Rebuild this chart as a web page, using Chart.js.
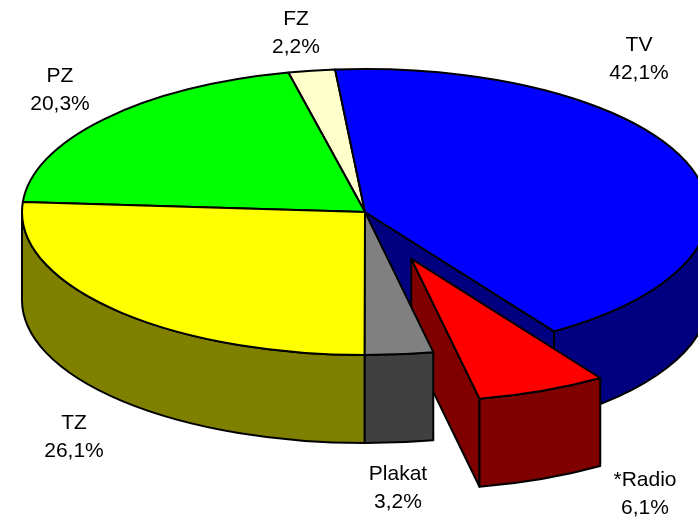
<!DOCTYPE html>
<html>
<head>
<meta charset="utf-8">
<script src="https://cdn.jsdelivr.net/npm/chart.js@4.4.0/dist/chart.umd.min.js"></script>
<style>
html,body{margin:0;padding:0;background:#fff;overflow:hidden}
#wrap{width:698px;height:523px;position:relative;background:#fff}
</style>
</head>
<body>
<div id="wrap"><canvas id="c" width="698" height="523"></canvas></div>
<script>
// ---- data ----
const categories = ['TV', '*Radio', 'Plakat', 'TZ', 'PZ', 'FZ'];
const shares = [42.1, 6.1, 3.2, 26.1, 20.3, 2.2];
const topColors = ['#0000FF', '#FF0000', '#808080', '#FFFF00', '#00FF00', '#FFFFCC'];
const sideColors = ['#000080', '#800000', '#404040', '#808000', '#008000', '#80805F'];
const explode = [0, 121, 0, 0, 0, 0];
// label anchor (centre x, first baseline y)
const labelAnchors = [[639, 51], [645, 486], [398, 480], [74, 429], [60, 82], [296, 25]];

// ---- projection settings ----
const Y0 = 212, TILT = 0.417, DEPTH = 88, LINE = 28;

function pctText(v) { return v.toFixed(1).replace('.', ',') + '%'; }

const pie3d = {
  id: 'pie3d',
  beforeDatasetsDraw(chart) {
    const ctx = chart.ctx;
    const meta = chart.getDatasetMeta(0);
    const pieces = meta.data.map((el, i) => {
      const p = el.getProps(['x', 'y', 'startAngle', 'endAngle', 'outerRadius'], true);
      const mid = (p.startAngle + p.endAngle) / 2;
      const e = explode[i] || 0;
      const ex = Math.cos(mid) * e, ey = Math.sin(mid) * e;
      return { el, i, a0: p.startAngle, a1: p.endAngle, R: p.outerRadius, baseY: p.y,
        ex, ey, X: p.x + ex, Y: Y0 + ey * TILT, mid };
    });
    const n = pieces.length;
    const rim = (pc, t, z) => [pc.X + pc.R * Math.cos(t), pc.Y + pc.R * TILT * Math.sin(t) + z];
    const dist = pc => {
      let d = ((pc.mid - Math.PI / 2) % (2 * Math.PI) + 2 * Math.PI) % (2 * Math.PI);
      if (d > Math.PI) d = 2 * Math.PI - d;
      return d;
    };
    const order = pieces.slice().sort((a, b) => dist(b) - dist(a));

    ctx.save();
    ctx.lineWidth = 2;
    ctx.strokeStyle = '#000';
    ctx.lineJoin = 'round';

    const face = (pc, t) => {
      const r0 = rim(pc, t, 0), r1 = rim(pc, t, DEPTH);
      ctx.beginPath();
      ctx.moveTo(pc.X, pc.Y);
      ctx.lineTo(r0[0], r0[1]);
      ctx.lineTo(r1[0], r1[1]);
      ctx.lineTo(pc.X, pc.Y + DEPTH);
      ctx.closePath();
      ctx.fillStyle = sideColors[pc.i];
      ctx.fill();
      ctx.stroke();
    };

    // walls
    order.forEach(pc => {
      const prev = pieces[(pc.i - 1 + n) % n], next = pieces[(pc.i + 1) % n];
      if ((pc.ex || pc.ey || prev.ex || prev.ey) && Math.cos(pc.a0) < 0) face(pc, pc.a0);
      if ((pc.ex || pc.ey || next.ex || next.ey) && Math.cos(pc.a1) > 0) face(pc, pc.a1);
      for (let k = -1; k <= 1; k++) {
        const s = Math.max(pc.a0, 2 * Math.PI * k);
        const e = Math.min(pc.a1, 2 * Math.PI * k + Math.PI);
        if (e <= s) continue;
        const b = rim(pc, e, DEPTH);
        const t0 = rim(pc, s, 0);
        ctx.beginPath();
        ctx.moveTo(t0[0], t0[1]);
        ctx.ellipse(pc.X, pc.Y, pc.R, pc.R * TILT, 0, s, e, false);
        ctx.lineTo(b[0], b[1]);
        ctx.ellipse(pc.X, pc.Y + DEPTH, pc.R, pc.R * TILT, 0, e, s, true);
        ctx.closePath();
        ctx.fillStyle = sideColors[pc.i];
        ctx.fill();
        ctx.stroke();
      }
    });

    // tops (drawn by the library's arc elements, projected)
    order.forEach(pc => {
      ctx.save();
      ctx.translate(0, Y0);
      ctx.scale(1, TILT);
      ctx.translate(pc.ex, pc.ey - pc.baseY);
      pc.el.draw(ctx);
      ctx.restore();
      const r0 = rim(pc, pc.a0, 0);
      ctx.beginPath();
      ctx.moveTo(pc.X, pc.Y);
      ctx.lineTo(r0[0], r0[1]);
      ctx.ellipse(pc.X, pc.Y, pc.R, pc.R * TILT, 0, pc.a0, pc.a1, false);
      ctx.closePath();
      ctx.stroke();
    });
    ctx.restore();
    return false;
  },
  afterDraw(chart) {
    const ctx = chart.ctx;
    ctx.save();
    ctx.fillStyle = '#000';
    ctx.font = '21px "Liberation Sans", Arial, sans-serif';
    ctx.textAlign = 'center';
    ctx.textBaseline = 'alphabetic';
    categories.forEach((c, i) => {
      const [x, y] = labelAnchors[i];
      ctx.fillText(c, x, y);
      ctx.fillText(pctText(shares[i]), x, y + LINE);
    });
    ctx.restore();
  }
};

new Chart(document.getElementById('c').getContext('2d'), {
  type: 'pie',
  data: {
    labels: categories,
    datasets: [{
      data: shares,
      backgroundColor: topColors,
      borderWidth: 0,
      hoverOffset: 0,
      clip: false
    }]
  },
  options: {
    responsive: false,
    animation: false,
    devicePixelRatio: 1,
    events: [],
    rotation: -5,
    radius: 343,
    layout: { padding: { left: 32, right: 0, top: 0, bottom: 0 } },
    plugins: { legend: { display: false }, tooltip: { enabled: false } }
  },
  plugins: [pie3d]
});
</script>
</body>
</html>
